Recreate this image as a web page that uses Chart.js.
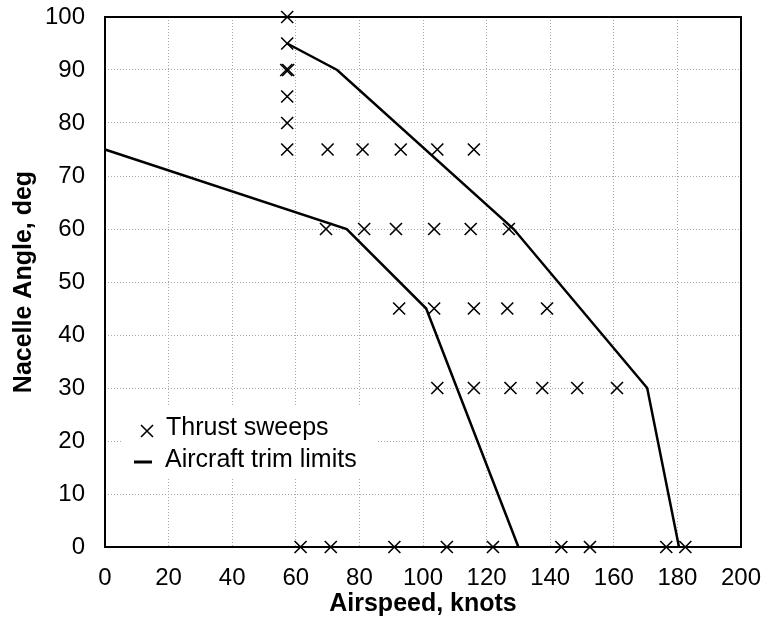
<!DOCTYPE html>
<html>
<head>
<meta charset="utf-8">
<script src="https://cdn.jsdelivr.net/npm/chart.js@4.4.1/dist/chart.umd.min.js"></script>
<style>
  html, body { margin: 0; padding: 0; background: #fff; }
  canvas { display: block; }
</style>
</head>
<body>
<canvas id="chart" width="769" height="623"></canvas>
<script>
// thrust sweep test points (airspeed in knots, nacelle angle in deg)
const sweepX = [
  57.3, 57.3, 57.0, 57.6, 57.3, 57.3, 57.3,
  70, 81, 93, 104.5, 116,
  69.5, 81.5, 91.5, 103.5, 115, 127,
  92.5, 103.5, 116, 126.5, 139,
  104.5, 116, 127.5, 137.5, 148.5, 161,
  61.5, 71, 91, 107.5, 122, 143.5, 152.5, 176.5, 182.5,
];
const sweepY = [
  100, 95, 90, 90, 85, 80, 75,
  75, 75, 75, 75, 75,
  60, 60, 60, 60, 60, 60,
  45, 45, 45, 45, 45,
  30, 30, 30, 30, 30, 30,
  0, 0, 0, 0, 0, 0, 0, 0, 0,
];

// trim limit boundaries
const lowLimitX = [0, 76, 101, 130];
const lowLimitY = [75, 60, 45, 0];
const highLimitX = [57.3, 73, 128.5, 170.5, 180.5];
const highLimitY = [95, 90, 60, 30, 0];

const legendLabels = ['Thrust sweeps', 'Aircraft trim limits'];

const FONT = "'Liberation Sans', Arial, Helvetica, sans-serif";

const toPoints = (xs, ys) => xs.map((x, i) => ({ x, y: ys[i] }));

// legend sits inside the plot, on a white box that hides the grid
const legendBox = {
  id: 'legendBox',
  beforeDatasetsDraw(chart) {
    const { ctx, chartArea } = chart;
    const left = chartArea.left + 17;
    const top = chartArea.bottom - 141;
    ctx.save();
    ctx.fillStyle = '#fff';
    ctx.fillRect(left, top, 255, 71);

    ctx.strokeStyle = '#000';
    ctx.lineWidth = 1.6;
    const mx = left + 25;
    const my = top + 25;
    ctx.beginPath();
    ctx.moveTo(mx - 6, my - 6);
    ctx.lineTo(mx + 6, my + 6);
    ctx.moveTo(mx + 6, my - 6);
    ctx.lineTo(mx - 6, my + 6);
    ctx.stroke();

    ctx.lineWidth = 3;
    ctx.beginPath();
    ctx.moveTo(left + 12, top + 56);
    ctx.lineTo(left + 30, top + 56);
    ctx.stroke();

    ctx.fillStyle = '#000';
    ctx.font = `25px ${FONT}`;
    ctx.textAlign = 'left';
    ctx.textBaseline = 'middle';
    ctx.fillText(legendLabels[0], left + 44, top + 22);
    ctx.fillText(legendLabels[1], left + 43, top + 54);
    ctx.restore();
  },
};

// black frame round the plot area
const frame = {
  id: 'frame',
  beforeDatasetsDraw(chart) {
    const { ctx, chartArea } = chart;
    ctx.save();
    ctx.strokeStyle = '#000';
    ctx.lineWidth = 2;
    ctx.strokeRect(
      chartArea.left,
      chartArea.top,
      chartArea.right - chartArea.left,
      chartArea.bottom - chartArea.top,
    );
    ctx.restore();
  },
};

const gridColor = '#a8a8a8';

new Chart(document.getElementById('chart'), {
  type: 'scatter',
  data: {
    datasets: [
      {
        label: legendLabels[1],
        data: toPoints(lowLimitX, lowLimitY),
        showLine: true,
        borderColor: '#000',
        borderWidth: 2.5,
        pointRadius: 0,
        fill: false,
        clip: false,
      },
      {
        label: legendLabels[1],
        data: toPoints(highLimitX, highLimitY),
        showLine: true,
        borderColor: '#000',
        borderWidth: 2.5,
        pointRadius: 0,
        fill: false,
        clip: false,
      },
      {
        label: legendLabels[0],
        data: toPoints(sweepX, sweepY),
        showLine: false,
        pointStyle: 'crossRot',
        pointRadius: 8.5,
        pointBorderWidth: 1.6,
        borderColor: '#000',
        backgroundColor: '#000',
        clip: false,
      },
    ],
  },
  options: {
    responsive: false,
    animation: false,
    devicePixelRatio: 1,
    layout: {
      padding: { top: 17, right: 28, left: 0, bottom: 0 },
    },
    plugins: {
      legend: { display: false },
      tooltip: { enabled: false },
    },
    scales: {
      x: {
        type: 'linear',
        min: 0,
        max: 200,
        ticks: {
          stepSize: 20,
          color: '#000',
          padding: 17,
          maxRotation: 0,
          font: { family: FONT, size: 24 },
        },
        grid: { color: gridColor, lineWidth: 1, drawTicks: false },
        border: { display: false, dash: [1, 2] },
        title: {
          display: true,
          text: 'Airspeed, knots',
          color: '#000',
          font: { family: FONT, size: 25, weight: 'bold' },
          padding: { top: 0, bottom: 4 },
        },
        afterFit: (scale) => {
          scale.height = 76;
          scale.paddingLeft = 0;
          scale.paddingRight = 0;
        },
      },
      y: {
        type: 'linear',
        min: 0,
        max: 100,
        ticks: {
          stepSize: 10,
          color: '#000',
          padding: 20,
          font: { family: FONT, size: 24 },
        },
        grid: { color: gridColor, lineWidth: 1, drawTicks: false },
        border: { display: false, dash: [1, 2] },
        title: {
          display: true,
          text: 'Nacelle Angle, deg',
          color: '#000',
          font: { family: FONT, size: 25, weight: 'bold' },
          padding: { top: 9, bottom: 0 },
        },
        afterFit: (scale) => {
          scale.width = 105;
          scale.paddingTop = 0;
          scale.paddingBottom = 0;
        },
      },
    },
  },
  plugins: [legendBox, frame],
});
</script>
</body>
</html>
